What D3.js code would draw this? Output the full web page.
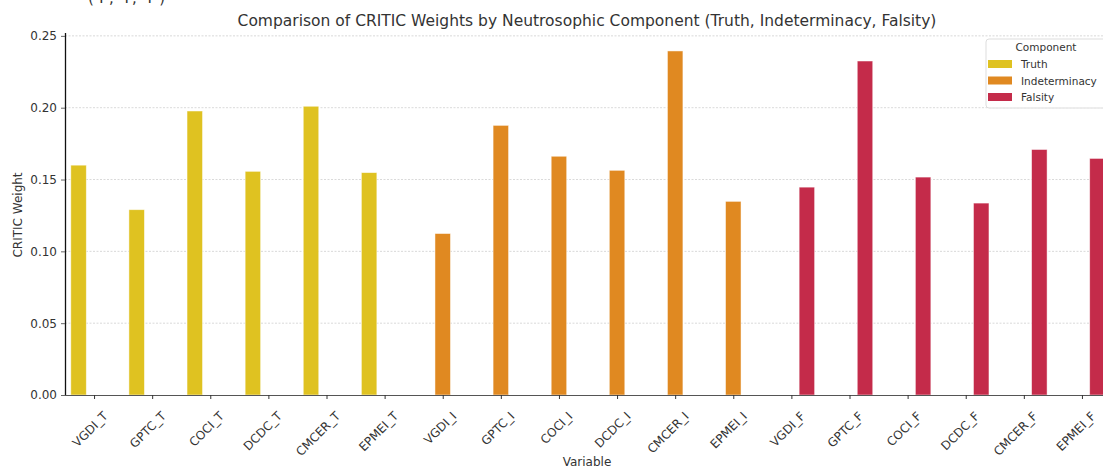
<!DOCTYPE html>
<html>
<head>
<meta charset="utf-8">
<script src="https://cdn.jsdelivr.net/npm/d3@7"></script>
<style>
  body { margin: 0; background: #fff; }
  svg { display: block; font-family: "DejaVu Sans", sans-serif; }
</style>
</head>
<body>
<svg id="chart" width="1103" height="468"></svg>
<script>
// data
var variables = ["VGDI_T","GPTC_T","COCI_T","DCDC_T","CMCER_T","EPMEI_T",
                 "VGDI_I","GPTC_I","COCI_I","DCDC_I","CMCER_I","EPMEI_I",
                 "VGDI_F","GPTC_F","COCI_F","DCDC_F","CMCER_F","EPMEI_F"];
var weights = [0.160, 0.129, 0.1977, 0.1557, 0.201, 0.1548,
               0.1124, 0.1877, 0.1662, 0.1564, 0.2395, 0.1348,
               0.1447, 0.2325, 0.1517, 0.1336, 0.1709, 0.1647];
var components = ["Truth","Indeterminacy","Falsity"];
var compColors = ["#dfc221","#e08921","#c42b4a"];
var yTicks = [0, 0.05, 0.10, 0.15, 0.20, 0.25];

var svg = d3.select("#chart");
var left = 65, bottom = 395, plotTop = 33;

var x = d3.scaleLinear().domain([-0.5, 17.5]).range([left, 1111]);
var y = d3.scaleLinear().domain([0, 0.252]).range([bottom, plotTop]);
var step = x(1) - x(0);
var bw = step * 0.8 / 3;

var color = d3.scaleOrdinal().domain(components).range(compColors);
function compOf(v) {
  var s = v.slice(-1);
  return s == "T" ? "Truth" : s == "I" ? "Indeterminacy" : "Falsity";
}

// text cut off at the very top of the picture (only its lower edge shows)
svg.append("text").attr("x", 88).attr("y", 2.5)
  .attr("font-size", 15).attr("fill", "#333")
  .attr("textLength", 77).text("(T, I, F)");

// grid
svg.append("g").selectAll("line").data(yTicks.slice(1)).enter().append("line")
  .attr("x1", left).attr("x2", 1103)
  .attr("y1", d => y(d)).attr("y2", d => y(d))
  .attr("stroke", "#cfcfcf").attr("stroke-width", 0.8)
  .attr("stroke-dasharray", "2,1.5");

// bars
var data = variables.map((v, i) => ({name: v, value: weights[i], comp: compOf(v), i: i}));
svg.append("g").selectAll("rect").data(data).enter().append("rect")
  .attr("x", d => x(d.i) + (components.indexOf(d.comp) - 1) * bw - bw / 2)
  .attr("width", bw)
  .attr("y", d => y(d.value))
  .attr("height", d => y(0) - y(d.value))
  .attr("fill", d => color(d.comp))
  .attr("stroke", "#fff").attr("stroke-opacity", 0.6).attr("stroke-width", 0.8);

// y axis
var yAxis = svg.append("g").attr("transform", "translate(" + left + ",0)")
  .call(d3.axisLeft(y).tickValues(yTicks).tickFormat(d3.format(".2f")).tickSize(4).tickPadding(4));
yAxis.select(".domain").attr("stroke", "#111").attr("stroke-width", 1.3).attr("d", "M0.5," + plotTop + "V" + bottom);
yAxis.selectAll(".tick line").attr("stroke", "#666");
yAxis.selectAll(".tick text").attr("font-size", 12).attr("fill", "#333").attr("font-family", "DejaVu Sans");

// x axis
var xAxis = svg.append("g").attr("transform", "translate(0," + bottom + ")")
  .call(d3.axisBottom(x).tickValues(d3.range(variables.length)).tickFormat(i => variables[i]).tickSize(4).tickPadding(3));
xAxis.select(".domain").attr("stroke", "#555").attr("stroke-width", 1.2).attr("d", "M" + left + ",0.5H1103");
xAxis.selectAll(".tick line").attr("stroke", "#333");
xAxis.selectAll(".tick text")
  .attr("font-size", 12).attr("fill", "#333").attr("font-family", "DejaVu Sans")
  .attr("text-anchor", "end").attr("dy", "0.35em")
  .attr("transform", "translate(6,14) rotate(-45)");

// title and labels
svg.append("text").attr("x", 587).attr("y", 26).attr("text-anchor", "middle")
  .attr("font-size", 15.5).attr("fill", "#333")
  .text("Comparison of CRITIC Weights by Neutrosophic Component (Truth, Indeterminacy, Falsity)");
svg.append("text").attr("x", 587).attr("y", 466).attr("text-anchor", "middle")
  .attr("font-size", 12).attr("fill", "#333").text("Variable");
svg.append("text").attr("transform", "translate(22,215) rotate(-90)").attr("text-anchor", "middle")
  .attr("font-size", 12).attr("fill", "#333").text("CRITIC Weight");

// legend
var lg = svg.append("g").attr("transform", "translate(986,39)");
lg.append("rect").attr("width", 130).attr("height", 69).attr("rx", 3)
  .attr("fill", "#fff").attr("fill-opacity", 0.85).attr("stroke", "#ddd");
lg.append("text").attr("x", 60).attr("y", 12).attr("text-anchor", "middle")
  .attr("font-size", 10.5).attr("fill", "#333").text("Component");
components.forEach((c, k) => {
  lg.append("rect").attr("x", 2).attr("y", 21 + k * 16.5).attr("width", 24).attr("height", 8)
    .attr("fill", color(c));
  lg.append("text").attr("x", 35).attr("y", 29 + k * 16.5)
    .attr("font-size", 10.5).attr("fill", "#333").text(c);
});
</script>
</body>
</html>
